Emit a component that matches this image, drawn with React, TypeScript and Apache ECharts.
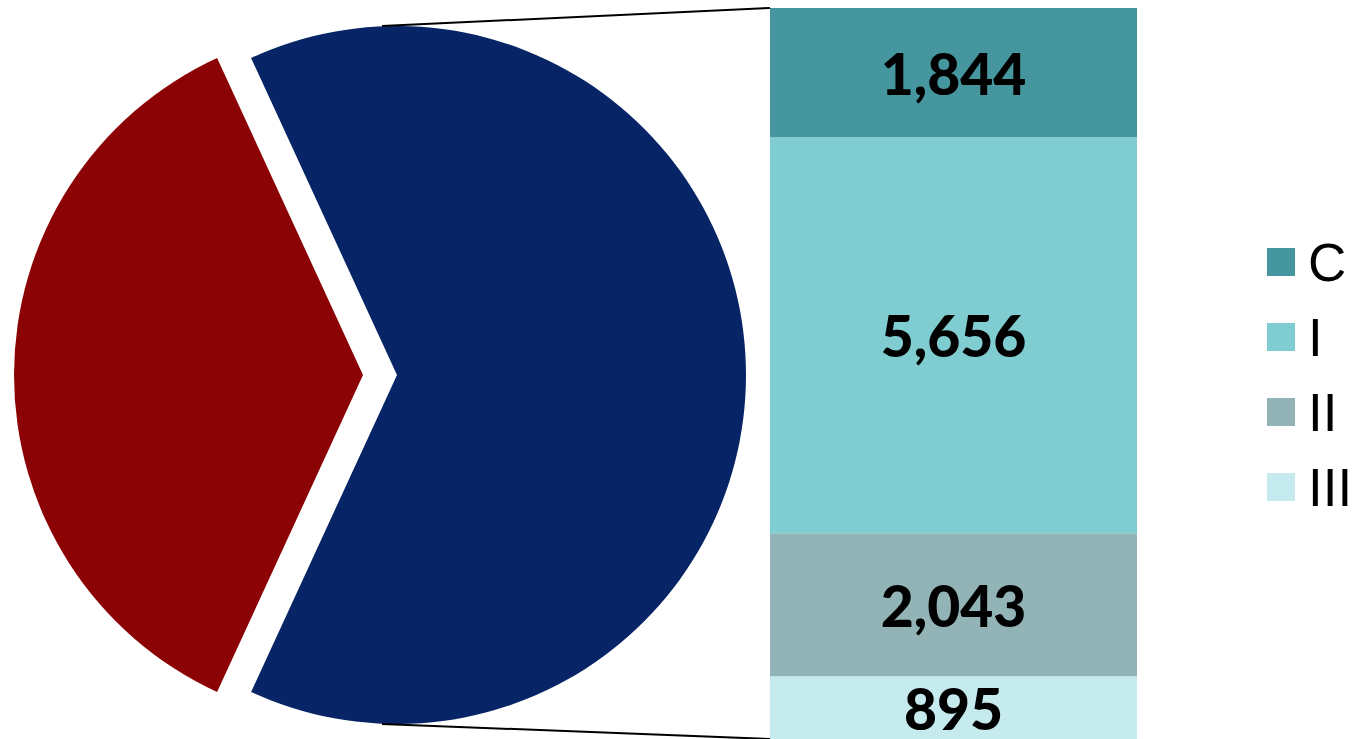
import React, { useEffect, useRef } from 'react';
import * as echarts from 'echarts';

// Pie: the red slice (other) and the blue slice (broken down in the bar)
const pieNames = ['Other', 'Breakdown'];
const otherValue = 5940;
const pieColors = ['#8B0304', '#062466'];

// Bar of pie breakdown (top to bottom)
const barCategories = ['C', 'I', 'II', 'III'];
const barValues = [1844, 5656, 2043, 895];
const barColors = ['#45969E', '#7FCCD1', '#92B4B7', '#C6EBEE'];

export default function App() {
  const ref = useRef<HTMLDivElement>(null);

  useEffect(() => {
    const chart = echarts.init(ref.current as HTMLDivElement, null, { renderer: 'svg' });
    const barTotal = barValues.reduce((a, b) => a + b, 0);
    const pieValues = [otherValue, barTotal];
    const pieTotal = pieValues[0] + pieValues[1];
    const startAngle = 180 + (pieValues[0] / pieTotal) * 180;

    const cx = 397;
    const cy = 375;
    const radius = 349;
    const gridLeft = 770;
    const gridTop = 8;
    const gridWidth = 367;
    const gridHeight = 731;

    const fmt = (v: number) => v.toLocaleString('en-US');

    const barSeries = barCategories
      .map((name, i) => ({
        type: 'bar',
        name,
        stack: 'total',
        xAxisIndex: 0,
        yAxisIndex: 0,
        barWidth: '100%',
        data: [barValues[i]],
        itemStyle: { color: barColors[i] },
        emphasis: { disabled: true },
        label: {
          show: true,
          position: 'inside',
          formatter: (p: any) => fmt(p.value),
          fontFamily: 'Lato',
          fontWeight: 900,
          fontSize: 57,
          color: '#000000',
        },
      }))
      .reverse();

    chart.setOption({
      animation: false,
      legend: {
        data: barCategories,
        orient: 'vertical',
        left: 1267,
        top: 235,
        padding: 0,
        icon: 'rect',
        itemWidth: 28,
        itemHeight: 28,
        itemGap: 21,
        selectedMode: false,
        textStyle: {
          fontFamily: 'Liberation Sans',
          fontSize: 53,
          lineHeight: 54,
          color: '#000000',
          padding: [0, 0, 0, 8],
        },
      },
      grid: { left: gridLeft, top: gridTop, width: gridWidth, height: gridHeight },
      xAxis: {
        type: 'category',
        data: ['breakdown'],
        show: false,
        boundaryGap: true,
      },
      yAxis: {
        type: 'value',
        min: 0,
        max: barTotal,
        show: false,
      },
      series: [
        {
          type: 'pie',
          center: [cx, cy],
          radius: radius,
          startAngle,
          clockwise: true,
          selectedMode: 'single',
          selectedOffset: 34,
          label: { show: false },
          labelLine: { show: false },
          emphasis: { disabled: true },
          silent: true,
          data: pieNames.map((name, i) => ({
            name,
            value: pieValues[i],
            selected: i === 0,
            itemStyle: { color: pieColors[i] },
            select: { itemStyle: { color: pieColors[i] } },
          })),
        },
        ...barSeries,
      ],
    });

    const yTop = chart.convertToPixel({ yAxisIndex: 0 }, barTotal) as number;
    const yBottom = chart.convertToPixel({ yAxisIndex: 0 }, 0) as number;

    chart.setOption({
      graphic: [
        {
          type: 'line',
          shape: { x1: cx - 15, y1: cy - radius, x2: gridLeft, y2: yTop },
          style: { stroke: '#000000', lineWidth: 2 },
          z: 10,
        },
        {
          type: 'line',
          shape: { x1: cx - 15, y1: cy + radius, x2: gridLeft, y2: yBottom },
          style: { stroke: '#000000', lineWidth: 2 },
          z: 10,
        },
      ],
    });

    return () => {
      chart.dispose();
    };
  }, []);

  return (
    <div
      ref={ref}
      style={{ position: 'fixed', left: 0, top: 0, width: 1352, height: 739 }}
    />
  );
}
